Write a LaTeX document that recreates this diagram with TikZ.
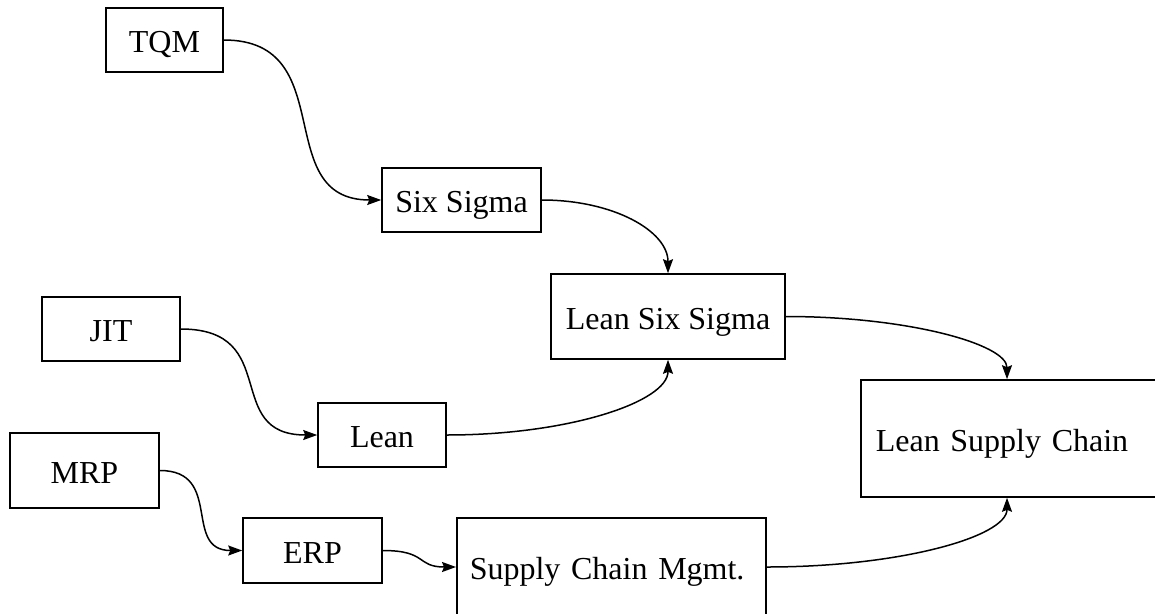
\documentclass[tikz,border=0pt]{standalone}
\usepackage{fontspec}
\setmainfont{Liberation Serif}
\usetikzlibrary{arrows.meta}
\begin{document}
\begin{tikzpicture}[x=1pt,y=1pt,
  box/.style={draw=black, line width=1.6pt, rectangle, inner sep=0pt,
    font=\fontsize{32}{38}\selectfont, text height=25pt, text depth=0pt},
  link/.style={line width=1.5pt, -{Stealth[length=14pt,width=10pt,inset=2pt]}}]
\useasboundingbox (0,0) rectangle (1155,-613);
\node[box, minimum width=117pt, minimum height=64pt] (tqm) at (164.5,-40) {TQM};
\node[box, minimum width=159pt, minimum height=64pt] (six) at (461.5,-200) {Six Sigma};
\node[box, minimum width=234pt, minimum height=85pt] (lss) at (668,-316.5) {Lean Six Sigma};
\node[box, minimum width=138pt, minimum height=64pt] (jit) at (111,-329) {JIT};
\node[box, minimum width=128pt, minimum height=64pt] (lean) at (382,-435) {Lean};
\node[box, minimum width=149pt, minimum height=75pt] (mrp) at (84.5,-470.5) {MRP};
\node[box, minimum width=139pt, minimum height=65pt] (erp) at (312.5,-550.5) {ERP};
\node[box, anchor=west, align=left, text width=283pt, inner xsep=13pt, minimum height=98pt] (scm) at (456,-567) {Supply Chain Mgmt.};
\node[box, anchor=west, align=left, text width=290pt, inner xsep=15pt, minimum height=117pt] (lsc) at (860,-438.5) {Lean Supply Chain};
\draw[link] (tqm.east) to[out=0,in=180,out distance=118pt,in distance=112pt] (six.west);
\draw[link] (six.east) to[out=0,in=90,out distance=72pt,in distance=42pt] (lss.north);
\draw[link] (jit.east) to[out=0,in=180,out distance=102pt,in distance=96pt] (lean.west);
\draw[link] (lean.east) to[out=0,in=-90,out distance=122pt,in distance=42pt] (lss.south);
\draw[link] (lss.east) to[out=0,in=90,out distance=122pt,in distance=35pt] ([xshift=147pt]lsc.north west);
\draw[link] (mrp.east) to[out=0,in=180,out distance=64pt,in distance=60pt] (erp.west);
\draw[link] (erp.east) to[out=0,in=180,out distance=45pt,in distance=40pt] (scm.west);
\draw[link] (scm.east) to[out=0,in=-90,out distance=133pt,in distance=39pt] ([xshift=147pt]lsc.south west);
\end{tikzpicture}
\end{document}
